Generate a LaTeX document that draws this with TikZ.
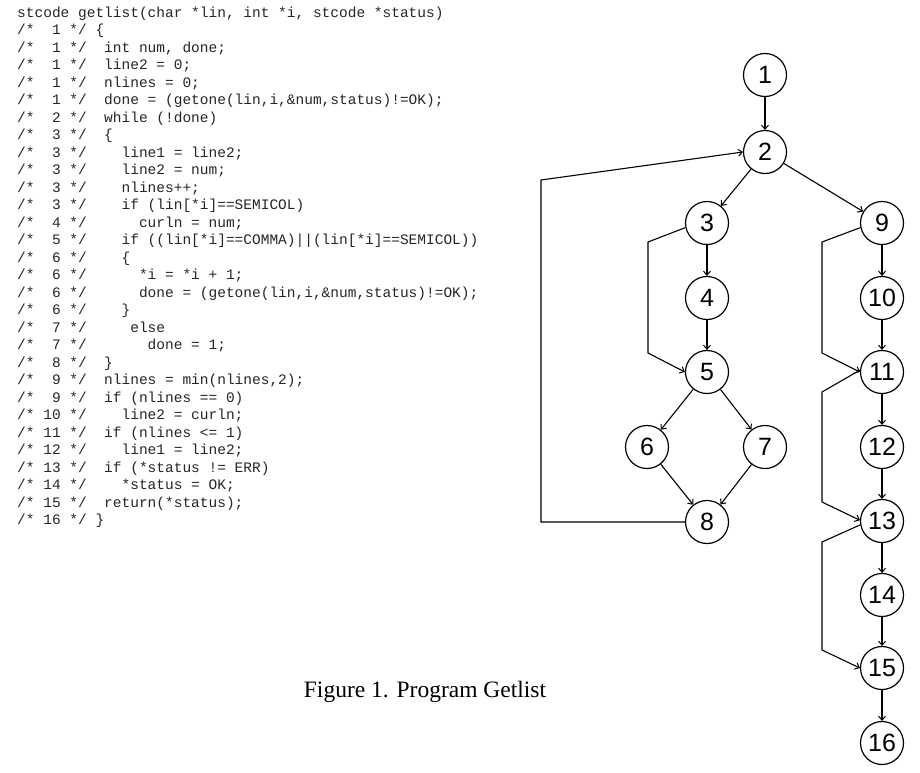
\documentclass[tikz,border=0pt]{standalone}
\usepackage{fontspec}
\setmainfont{Liberation Serif}
\setmonofont{Liberation Mono}
\newfontfamily\numfont{Liberation Sans}
\usetikzlibrary{arrows.meta}
\newcommand\codeln[2]{\node[codeline] (c#1) at (17,{17+17.5*#1}) {#2};}
\begin{document}
\begin{tikzpicture}[x=1pt,y=-1pt,
  vtx/.style={circle,draw,line width=1.2pt,minimum size=43pt,inner sep=0pt,
    font=\numfont\fontsize{25}{25}\selectfont},
  edge/.style={line width=1.1pt,-{Straight Barb[length=4pt,width=7pt,line width=1pt]}},
  codeline/.style={anchor=base west,inner sep=0pt,text=black!85,
    font=\ttfamily\fontsize{14.5}{17.5}\selectfont},
  captionstyle/.style={anchor=base,inner sep=0pt,font=\fontsize{23.5}{28}\selectfont}]
\useasboundingbox[fill=white] (0,0) rectangle (920,772);

% ---- code listing ----
\codeln{0}{stcode getlist(char *lin, int *i, stcode *status)}
\codeln{1}{/*\ \ 1 */ \{}
\codeln{2}{/*\ \ 1 */\ \ int num, done;}
\codeln{3}{/*\ \ 1 */\ \ line2 = 0;}
\codeln{4}{/*\ \ 1 */\ \ nlines = 0;}
\codeln{5}{/*\ \ 1 */\ \ done = (getone(lin,i,\&num,status)!=OK);}
\codeln{6}{/*\ \ 2 */\ \ while (!done)}
\codeln{7}{/*\ \ 3 */\ \ \{}
\codeln{8}{/*\ \ 3 */\ \ \ \ line1 = line2;}
\codeln{9}{/*\ \ 3 */\ \ \ \ line2 = num;}
\codeln{10}{/*\ \ 3 */\ \ \ \ nlines++;}
\codeln{11}{/*\ \ 3 */\ \ \ \ if (lin[*i]==SEMICOL)}
\codeln{12}{/*\ \ 4 */\ \ \ \ \ \ curln = num;}
\codeln{13}{/*\ \ 5 */\ \ \ \ if ((lin[*i]==COMMA)||(lin[*i]==SEMICOL))}
\codeln{14}{/*\ \ 6 */\ \ \ \ \{}
\codeln{15}{/*\ \ 6 */\ \ \ \ \ \ *i = *i + 1;}
\codeln{16}{/*\ \ 6 */\ \ \ \ \ \ done = (getone(lin,i,\&num,status)!=OK);}
\codeln{17}{/*\ \ 6 */\ \ \ \ \}}
\codeln{18}{/*\ \ 7 */\ \ \ \ \ else}
\codeln{19}{/*\ \ 7 */\ \ \ \ \ \ \ done = 1;}
\codeln{20}{/*\ \ 8 */\ \ \}}
\codeln{21}{/*\ \ 9 */\ \ nlines = min(nlines,2);}
\codeln{22}{/*\ \ 9 */\ \ if (nlines == 0)}
\codeln{23}{/* 10 */\ \ \ \ line2 = curln;}
\codeln{24}{/* 11 */\ \ if (nlines <= 1)}
\codeln{25}{/* 12 */\ \ \ \ line1 = line2;}
\codeln{26}{/* 13 */\ \ if (*status != ERR)}
\codeln{27}{/* 14 */\ \ \ \ *status = OK;}
\codeln{28}{/* 15 */\ \ return(*status);}
\codeln{29}{/* 16 */ \}}

% ---- caption ----
\node[captionstyle] (cap) at (425,697) {Figure 1. Program Getlist};

% ---- graph nodes ----
\node[vtx] (n1)  at (765,75)  {1};
\node[vtx] (n2)  at (765,152) {2};
\node[vtx] (n3)  at (707,223) {3};
\node[vtx] (n4)  at (707,298) {4};
\node[vtx] (n5)  at (707,372) {5};
\node[vtx] (n6)  at (647,447) {6};
\node[vtx] (n7)  at (765,447) {7};
\node[vtx] (n8)  at (707,522) {8};
\node[vtx] (n9)  at (882,223) {9};
\node[vtx] (n10) at (882,298) {10};
\node[vtx] (n11) at (882,372) {11};
\node[vtx] (n12) at (882,447) {12};
\node[vtx] (n13) at (882,521) {13};
\node[vtx] (n14) at (882,595) {14};
\node[vtx] (n15) at (882,668) {15};
\node[vtx] (n16) at (882,743) {16};

% ---- bend points ----
\coordinate (b82a) at (541,522);
\coordinate (b82b) at (541,180);
\coordinate (b35a) at (648,242);
\coordinate (b35b) at (648,353);
\coordinate (b911a) at (822,242);
\coordinate (b911b) at (822,353);
\coordinate (b1113a) at (822,392);
\coordinate (b1113b) at (822,502);
\coordinate (b1315a) at (822,542);
\coordinate (b1315b) at (822,650);

% ---- edges ----
\draw[edge] (n1) -- (n2);
\draw[edge] (n2) -- (n3);
\draw[edge] (n2) -- (n9);
\draw[edge] (n3) -- (n4);
\draw[edge] (n4) -- (n5);
\draw[edge] (n5) -- (n6);
\draw[edge] (n5) -- (n7);
\draw[edge] (n6) -- (n8);
\draw[edge] (n7) -- (n8);
\draw[edge] (n9) -- (n10);
\draw[edge] (n10) -- (n11);
\draw[edge] (n11) -- (n12);
\draw[edge] (n12) -- (n13);
\draw[edge] (n13) -- (n14);
\draw[edge] (n14) -- (n15);
\draw[edge] (n15) -- (n16);
\draw[edge] (n8.west) -- (b82a) -- (b82b) -- (n2.west);
\draw[edge] (n3.192) -- (b35a) -- (b35b) -- (n5.west);
\draw[edge] (n9.192) -- (b911a) -- (b911b) -- (n11.west);
\draw[edge] (n11.175) -- (b1113a) -- (b1113b) -- (n13.178);
\draw[edge] (n13.190) -- (b1315a) -- (b1315b) -- (n15.west);
\end{tikzpicture}
\end{document}
